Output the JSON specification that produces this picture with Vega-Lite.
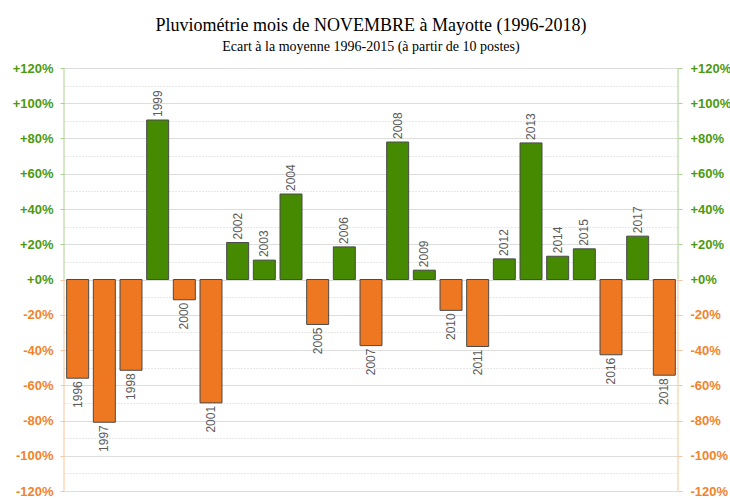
{
  "$schema": "https://vega.github.io/schema/vega-lite/v6.json",
  "autosize": {"type": "none"},
  "width": 614,
  "height": 423,
  "padding": {"left": 64, "top": 68, "right": 52, "bottom": 9},
  "background": "white",
  "config": {"view": {"stroke": null}},
  "title": {
    "text": "Pluviométrie mois de NOVEMBRE à Mayotte (1996-2018)",
    "subtitle": "Ecart à la moyenne 1996-2015 (à partir de 10 postes)",
    "font": "Liberation Serif",
    "fontSize": 18,
    "fontWeight": "normal",
    "color": "#000000",
    "subtitleFont": "Liberation Serif",
    "subtitleFontSize": 14,
    "subtitleColor": "#000000",
    "subtitlePadding": 5,
    "anchor": "middle",
    "offset": 8
  },
  "data": {
    "values": [
      {"year": "1996", "v": -56},
      {"year": "1997", "v": -81},
      {"year": "1998", "v": -51.5},
      {"year": "1999", "v": 90.5},
      {"year": "2000", "v": -11.5},
      {"year": "2001", "v": -70},
      {"year": "2002", "v": 21},
      {"year": "2003", "v": 11},
      {"year": "2004", "v": 48.5},
      {"year": "2005", "v": -25.5},
      {"year": "2006", "v": 18.5},
      {"year": "2007", "v": -37.5},
      {"year": "2008", "v": 78},
      {"year": "2009", "v": 5.3},
      {"year": "2010", "v": -17.5},
      {"year": "2011", "v": -38},
      {"year": "2012", "v": 11.7},
      {"year": "2013", "v": 77.5},
      {"year": "2014", "v": 13.2},
      {"year": "2015", "v": 17.4},
      {"year": "2016", "v": -42.7},
      {"year": "2017", "v": 24.6},
      {"year": "2018", "v": -54.3}
    ]
  },
  "resolve": {"axis": {"y": "independent"}},
  "layer": [
    {
      "mark": {"type": "bar", "stroke": "#4a4a4a", "strokeWidth": 1},
      "encoding": {
        "x": {"field": "year", "type": "nominal", "axis": null, "sort": null,
              "scale": {"paddingInner": 0.175, "paddingOuter": 0.1}},
        "y": {
          "field": "v", "type": "quantitative",
          "scale": {"domain": [-120, 120], "nice": false, "zero": false},
          "axis": {
            "orient": "left",
            "title": null,
            "values": [-120,-110,-100,-90,-80,-70,-60,-50,-40,-30,-20,-10,0,10,20,30,40,50,60,70,80,90,100,110,120],
            "labelExpr": "datum.value % 20 === 0 ? (datum.value >= 0 ? '+' : '') + datum.value + '%' : ''",
            "labelFont": "Liberation Sans",
            "labelFontSize": 13,
            "labelFontWeight": "bold",
            "labelColor": {"condition": {"test": "datum.value >= 0", "value": "#4c9a10"}, "value": "#f0842c"},
            "labelPadding": 7,
            "domain": false,
            "tickSize": 4,
            "tickColor": {"condition": {"test": "datum.value > 0", "value": "#a9d28c"}, "value": "#f8c59c"},
            "tickOpacity": {"condition": {"test": "datum.value % 20 !== 0", "value": 0}, "value": 1},
            "grid": true,
            "gridColor": {"condition": {"test": "datum.value % 20 !== 0", "value": "#d0d0d0"}, "value": "#dddddd"},
            "gridDash": {"condition": {"test": "datum.value % 20 !== 0", "value": [1, 2]}, "value": []},
            "gridWidth": 1
          }
        },
        "color": {"condition": {"test": "datum.v >= 0", "value": "#458a00"}, "value": "#ee7722"}
      }
    },
    {
      "transform": [{"filter": "datum.v < 0"}],
      "mark": {"type": "text", "angle": 270, "align": "right", "baseline": "middle", "dx": -3,
               "font": "Liberation Sans", "fontSize": 12, "color": "#5a5a5a"},
      "encoding": {
        "x": {"field": "year", "type": "nominal", "sort": null, "axis": null},
        "y": {
          "field": "v", "type": "quantitative",
          "axis": {
            "orient": "right",
            "title": null,
            "values": [-120,-100,-80,-60,-40,-20,0,20,40,60,80,100,120],
            "labelExpr": "(datum.value >= 0 ? '+' : '') + datum.value + '%'",
            "labelFont": "Liberation Sans",
            "labelFontSize": 13,
            "labelFontWeight": "bold",
            "labelColor": {"condition": {"test": "datum.value >= 0", "value": "#4c9a10"}, "value": "#f0842c"},
            "labelPadding": 8,
            "domain": false,
            "tickSize": 4,
            "tickColor": {"condition": {"test": "datum.value > 0", "value": "#a9d28c"}, "value": "#f8c59c"},
            "grid": false
          }
        },
        "text": {"field": "year"}
      }
    },
    {
      "transform": [{"filter": "datum.v >= 0"}],
      "mark": {"type": "text", "angle": 270, "align": "left", "baseline": "middle", "dx": 3,
               "font": "Liberation Sans", "fontSize": 12, "color": "#5a5a5a"},
      "encoding": {
        "x": {"field": "year", "type": "nominal", "sort": null, "axis": null},
        "y": {"field": "v", "type": "quantitative", "axis": null},
        "text": {"field": "year"}
      }
    },
    {
      "data": {"values": [{"side": "left", "top": 120, "bottom": 0, "part": "pos"}, {"side": "left", "top": 0, "bottom": -120, "part": "neg"}]},
      "mark": {"type": "rule", "strokeWidth": 1},
      "encoding": {
        "x": {"value": 0},
        "y": {"field": "top", "type": "quantitative", "axis": null},
        "y2": {"field": "bottom"},
        "color": {"field": "part", "type": "nominal", "legend": null,
                  "scale": {"domain": ["pos", "neg"], "range": ["#a9d28c", "#f8c59c"]}}
      }
    },
    {
      "data": {"values": [{"side": "right", "top": 120, "bottom": 0, "part": "pos"}, {"side": "right", "top": 0, "bottom": -120, "part": "neg"}]},
      "mark": {"type": "rule", "strokeWidth": 1},
      "encoding": {
        "x": {"value": "width"},
        "y": {"field": "top", "type": "quantitative", "axis": null},
        "y2": {"field": "bottom"},
        "color": {"field": "part", "type": "nominal", "legend": null,
                  "scale": {"domain": ["pos", "neg"], "range": ["#a9d28c", "#f8c59c"]}}
      }
    }
  ]
}
